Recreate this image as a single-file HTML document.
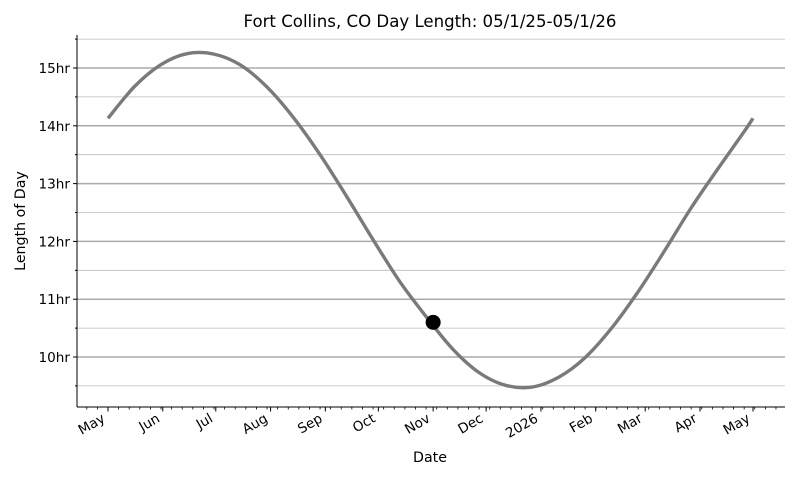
<!DOCTYPE html>
<html><head><meta charset="utf-8"><style>
body{margin:0;background:#fff;font-family:"Liberation Sans","DejaVu Sans",sans-serif}
svg text{font-family:"DejaVu Sans","Liberation Sans",sans-serif}
</style></head><body>
<svg id="chart" width="800" height="480" xmlns="http://www.w3.org/2000/svg">
<text x="430" y="27" font-size="16.6" text-anchor="middle">Fort Collins, CO Day Length: 05/1/25-05/1/26</text>
<g id="grid"></g><g id="axes"></g><g id="series"></g>
<text x="430" y="462" font-size="14.2" text-anchor="middle">Date</text>
<text transform="translate(25,221) rotate(-90)" font-size="14.2" text-anchor="middle">Length of Day</text>
</svg>
<script>
// day offsets from May 1 2025 and day lengths (hours)
const dayOffsets=[0,15,30,45,60,75,90,105,120,135,150,165,180,195,210,225,240,255,270,285,300,315,330,345,360,365];
const dayLengths=[14.13,14.68,15.06,15.25,15.24,15.05,14.67,14.14,13.5,12.78,12.03,11.31,10.7,10.14,9.73,9.51,9.48,9.65,9.99,10.5,11.13,11.84,12.58,13.25,13.9,14.13];
const monthLabels=["May","Jun","Jul","Aug","Sep","Oct","Nov","Dec","2026","Feb","Mar","Apr","May"];
const monthOffsets=[0,31,61,92,123,153,184,214,245,276,304,335,365];
const yTicks=[10,11,12,13,14,15];
const markerDay=184, markerValue=10.6;
const NS="http://www.w3.org/2000/svg";
const X0=77,X1=785,Y0=407,Y1=35;
const xs=d=>108+d*(645/365);
const ys=h=>357-(h-10)*57.8;
function mk(tag,attrs,parent){const e=document.createElementNS(NS,tag);for(const k in attrs)e.setAttribute(k,attrs[k]);parent.appendChild(e);return e;}
const grid=document.getElementById('grid'),axes=document.getElementById('axes'),series=document.getElementById('series');
for(let h=9.5;h<=15.5;h+=0.5){
 const major=Number.isInteger(h);
 const l=mk('line',{x1:X0,x2:X1,y1:ys(h),y2:ys(h),stroke:major?'#aaa':'#bbb','stroke-width':major?1.5:0.8},grid);
 
 
 mk('line',{x1:X0-(major?4:2),x2:X0,y1:ys(h),y2:ys(h),stroke:'#000','stroke-width':1},axes);
}
yTicks.forEach(h=>{const t=mk('text',{x:X0-7,y:ys(h)+5,'font-size':13.6,'text-anchor':'end'},axes);t.textContent=h+'hr';
 });
let a=mk('line',{x1:X0,x2:X0,y1:Y1,y2:Y0,stroke:'#000','stroke-width':1},axes);

a=mk('line',{x1:X0,x2:X1,y1:Y0,y2:Y0,stroke:'#000','stroke-width':1},axes);

for(let d=-18;d<=380;d+=6){const x=xs(d);if(x<X0||x>X1)continue;mk('line',{x1:x,x2:x,y1:Y0,y2:Y0+2.5,stroke:'#000','stroke-width':0.8},axes);}
monthOffsets.forEach((d,i)=>{const x=xs(d);mk('line',{x1:x,x2:x,y1:Y0,y2:Y0+4.5,stroke:'#000','stroke-width':1},axes);
 const t=mk('text',{transform:`translate(${x-2},${Y0+14}) rotate(-30)`,'font-size':13.6,'text-anchor':'end'},axes);t.textContent=monthLabels[i];
 });
const P=dayOffsets.map((d,i)=>[xs(d),ys(dayLengths[i])]);
let p=`M${P[0][0]},${P[0][1]}`;
for(let i=0;i<P.length-1;i++){const p0=P[Math.max(0,i-1)],p1=P[i],p2=P[i+1],p3=P[Math.min(P.length-1,i+2)];
 p+=` C${p1[0]+(p2[0]-p0[0])/6},${p1[1]+(p2[1]-p0[1])/6} ${p2[0]-(p3[0]-p1[0])/6},${p2[1]-(p3[1]-p1[1])/6} ${p2[0]},${p2[1]}`;}
const line=mk('path',{d:p,fill:'none',stroke:'#7a7a7a','stroke-width':3.4},series);

const dot=mk('circle',{cx:xs(markerDay),cy:ys(markerValue),r:7.5,fill:'#000'},series);

</script>
</body></html>
